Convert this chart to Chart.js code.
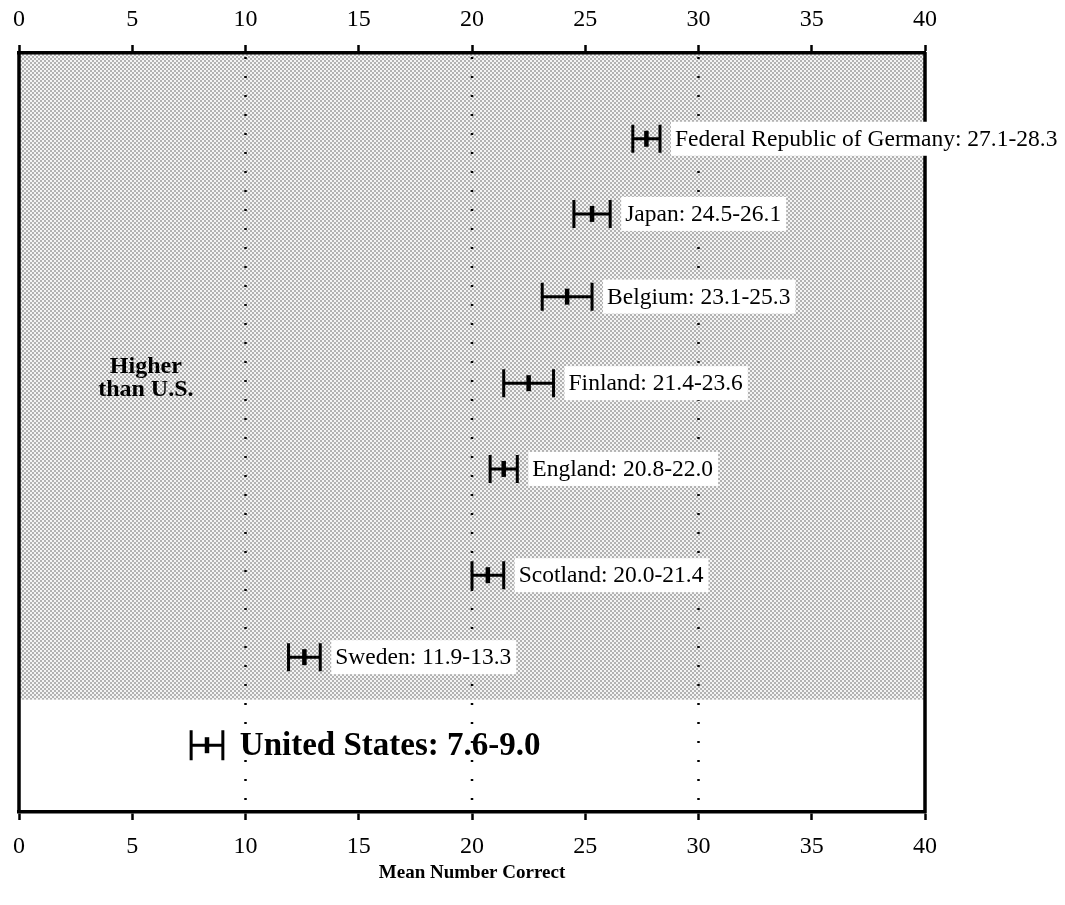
<!DOCTYPE html>
<html>
<head>
<meta charset="utf-8">
<script src="https://cdn.jsdelivr.net/npm/chart.js@4.4.1/dist/chart.umd.min.js"></script>
<style>
  body { margin: 0; background: #fff; }
  #wrap { width: 1065px; height: 905px; }
</style>
</head>
<body>
<div id="wrap"><canvas id="meanChart" width="1065" height="905"></canvas></div>
<script>
const countries = ["Federal Republic of Germany", "Japan", "Belgium", "Finland", "England", "Scotland", "Sweden", "United States"];
const lowValues = [27.1, 24.5, 23.1, 21.4, 20.8, 20.0, 11.9, 7.6];
const highValues = [28.3, 26.1, 25.3, 23.6, 22.0, 21.4, 13.3, 9.0];
// vertical slot of each row (0 = top of frame, 100 = bottom)
const rowPositions = [11.3, 21.2, 32.1, 43.5, 54.8, 68.8, 79.6, 91.2];
const xTicks = [0, 5, 10, 15, 20, 25, 30, 35, 40];
const dottedAt = [10, 20, 30];
const shadedUntil = 85.2;
const noteLines = ["Higher", "than U.S."];

const serif = "'Liberation Serif', 'Times New Roman', serif";

// stipple pattern for the "higher than U.S." band
function stipple(ctx) {
  const c = document.createElement("canvas");
  c.width = 4; c.height = 4;
  const p = c.getContext("2d");
  p.fillStyle = "#f4f4f4"; p.fillRect(0, 0, 4, 4);
  p.fillStyle = "#b2b2b2"; p.fillRect(0, 0, 2, 2); p.fillRect(2, 2, 2, 2);
  return ctx.createPattern(c, "repeat");
}

const errorBarPlugin = {
  id: "errorBars",
  beforeDraw(chart) {
    const { ctx, chartArea: a, scales: { y } } = chart;
    ctx.save();
    ctx.fillStyle = stipple(ctx);
    ctx.fillRect(a.left, a.top, a.right - a.left, y.getPixelForValue(shadedUntil) - a.top);
    ctx.restore();
  },
  beforeDatasetsDraw(chart) {
    const { ctx, chartArea: a, scales: { x } } = chart;
    ctx.save();
    ctx.strokeStyle = "#000";
    ctx.lineWidth = 2.5;
    ctx.setLineDash([2, 17]);
    dottedAt.forEach(v => {
      const px = x.getPixelForValue(v);
      ctx.beginPath();
      ctx.moveTo(px, a.top + 4);
      ctx.lineTo(px, a.bottom);
      ctx.stroke();
    });
    // left and right frame
    ctx.setLineDash([]);
    ctx.lineWidth = 3.5;
    ctx.beginPath();
    ctx.moveTo(a.left, a.top - 1); ctx.lineTo(a.left, a.bottom + 1);
    ctx.moveTo(a.right, a.top - 1); ctx.lineTo(a.right, a.bottom + 1);
    ctx.stroke();
    ctx.restore();
  },
  afterDatasetsDraw(chart) {
    const { ctx, scales: { x, y } } = chart;
    ctx.save();
    ctx.strokeStyle = "#000";
    countries.forEach((name, i) => {
      const us = i === countries.length - 1;
      const lo = x.getPixelForValue(lowValues[i]);
      const hi = x.getPixelForValue(highValues[i]);
      const py = y.getPixelForValue(rowPositions[i]);
      const cap = us ? 15 : 14;
      ctx.lineWidth = 3;
      ctx.beginPath();
      ctx.moveTo(lo, py); ctx.lineTo(hi, py);
      ctx.moveTo(lo, py - cap); ctx.lineTo(lo, py + cap);
      ctx.moveTo(hi, py - cap); ctx.lineTo(hi, py + cap);
      ctx.stroke();

      const label = name + ": " + lowValues[i].toFixed(1) + "-" + highValues[i].toFixed(1);
      ctx.font = us ? "bold 33px " + serif : "23.5px " + serif;
      ctx.textBaseline = "middle";
      const w = ctx.measureText(label).width;
      const bx = hi + 11;
      if (!us) {
        ctx.fillStyle = "#fff";
        ctx.fillRect(bx, py - 17, w + 9, 34);
      }
      ctx.fillStyle = "#000";
      ctx.fillText(label, bx + (us ? 6 : 4), py + 1);
    });

    ctx.font = "bold 24px " + serif;
    ctx.textAlign = "center";
    ctx.textBaseline = "middle";
    ctx.fillText(noteLines[0], x.getPixelForValue(5.6), y.getPixelForValue(41.4));
    ctx.fillText(noteLines[1], x.getPixelForValue(5.6), y.getPixelForValue(44.4));
    ctx.restore();
  }
};

const tickFont = { family: serif, size: 24 };
const forcedTicks = s => { s.ticks = xTicks.map(v => ({ value: v })); };

const ctx = document.getElementById("meanChart");
new Chart(ctx, {
  type: "scatter",
  data: {
    datasets: [{
      data: countries.map((c, i) => ({ x: (lowValues[i] + highValues[i]) / 2, y: rowPositions[i] })),
      pointStyle: "line",
      rotation: 90,
      pointRadius: 8,
      pointBorderWidth: 4.5,
      borderColor: "#000",
      pointHoverRadius: 8
    }]
  },
  options: {
    responsive: false,
    animation: false,
    layout: { padding: { left: 19, right: 140, top: 0, bottom: 0 } },
    plugins: { legend: { display: false }, tooltip: { enabled: false } },
    scales: {
      x: {
        type: "linear", position: "bottom", min: 0, max: 40,
        afterBuildTicks: forcedTicks,
        ticks: { font: tickFont, color: "#000", padding: 12 },
        grid: { drawOnChartArea: false, tickLength: 8, tickWidth: 2.5, tickColor: "#000" },
        border: { color: "#000", width: 3.5 },
        title: { display: true, text: "Mean Number Correct", color: "#000",
                 font: { family: serif, size: 19, weight: "bold" }, padding: { top: 0, bottom: 21 } },
        afterFit: s => { s.height = 93; }
      },
      xTop: {
        type: "linear", position: "top", min: 0, max: 40,
        afterBuildTicks: forcedTicks,
        ticks: { font: tickFont, color: "#000", padding: 11 },
        grid: { drawOnChartArea: false, tickLength: 8, tickWidth: 2.5, tickColor: "#000" },
        border: { color: "#000", width: 3.5 },
        afterFit: s => { s.height = 53; }
      },
      y: { display: false, min: 0, max: 100, reverse: true }
    }
  },
  plugins: [errorBarPlugin]
});
</script>
</body>
</html>
